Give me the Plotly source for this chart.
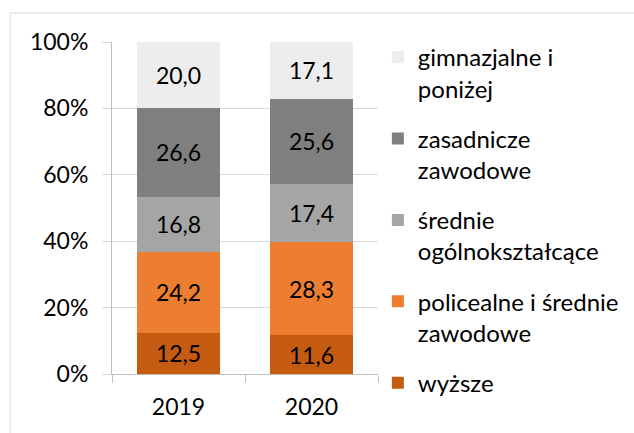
import plotly.graph_objects as go

years = ["2019", "2020"]
series_names = ["wyższe", "policealne i średnie<br>zawodowe", "średnie<br>ogólnokształcące",
                "zasadnicze<br>zawodowe", "gimnazjalne i<br>poniżej"]
wyzsze = [12.5, 11.6]
policealne = [24.2, 28.3]
srednie_ogol = [16.8, 17.4]
zasadnicze = [26.6, 25.6]
gimnazjalne = [20.0, 17.1]
series_values = [wyzsze, policealne, srednie_ogol, zasadnicze, gimnazjalne]
colors = ["#C55A11", "#ED7D31", "#A5A5A5", "#7F7F7F", "#EDEDED"]
y_ticks = [0, 20, 40, 60, 80, 100]

FONT = "Lato"
fig = go.Figure()
n = len(series_names)
for i, (name, vals, col) in enumerate(zip(series_names, series_values, colors)):
    fig.add_trace(go.Bar(
        x=years, y=vals, name=name, marker=dict(color=col, line=dict(width=0)),
        text=[f"{v:.1f}".replace(".", ",") for v in vals],
        textposition="inside", insidetextanchor="middle",
        textfont=dict(color="black", size=23, family=FONT),
        legendgroup=f"g{i}", legendrank=n - i, hoverinfo="skip",
    ))

fig.update_layout(
    barmode="stack", barnorm="percent", bargap=0.383,
    width=634, height=433,
    margin=dict(l=112, r=256, t=42, b=59, autoexpand=False),
    paper_bgcolor="white", plot_bgcolor="white",
    font=dict(family=FONT, size=23, color="black"),
    legend=dict(
        xref="container", yref="paper",
        x=0.596, y=1.021, xanchor="left", yanchor="top",
        traceorder="grouped", tracegroupgap=16, maxheight=420,
        valign="top", font=dict(size=24, family=FONT),
        bgcolor="rgba(0,0,0,0)",
    ),
    xaxis=dict(
        showline=True, linecolor="#BFBFBF", linewidth=1,
        ticks="outside", tickson="boundaries", ticklen=8, tickcolor="#BFBFBF",
        showgrid=False, tickfont=dict(size=23), ticklabelstandoff=12,
    ),
    yaxis=dict(
        range=[0, 100], tickvals=y_ticks, ticktext=[f"{v}%" for v in y_ticks],
        showline=True, linecolor="#BFBFBF", linewidth=1,
        showgrid=True, gridcolor="#D9D9D9", gridwidth=1,
        ticks="outside", ticklen=9, tickcolor="#D9D9D9",
        tickfont=dict(size=23), zeroline=False, ticklabelstandoff=9,
    ),
    shapes=[dict(type="rect", xref="paper", yref="paper",
                 x0=-0.383, x1=1.985, y0=-0.199, y1=1.087,
                 line=dict(color="#D9D9D9", width=1), fillcolor="rgba(0,0,0,0)", layer="below")],
)

fig.write_html("out.html", config={"displayModeBar": False},
               post_script="document.body.style.margin='0';")
